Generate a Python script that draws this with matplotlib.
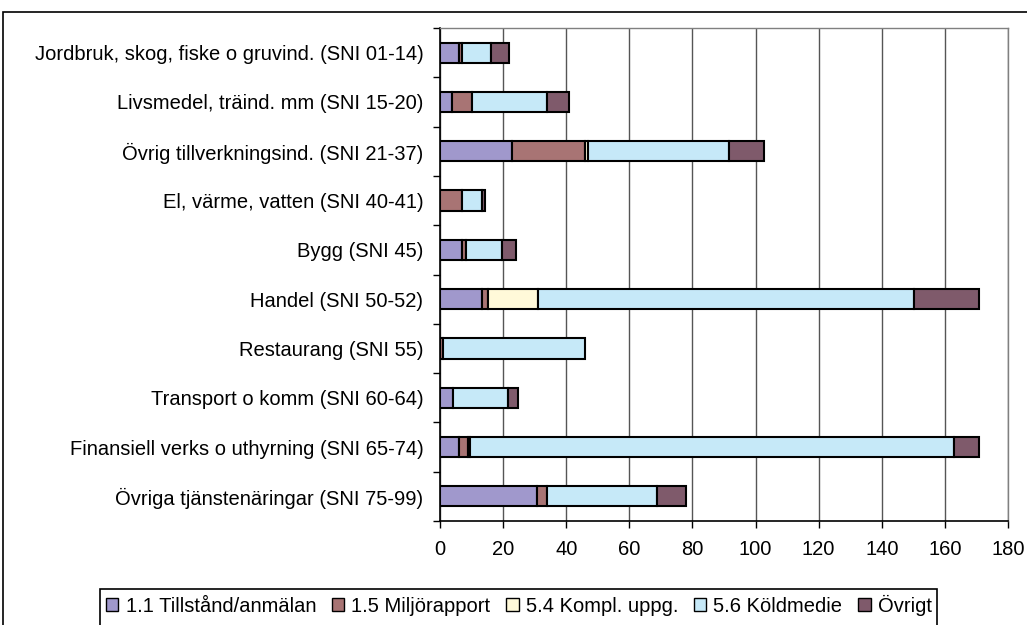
import matplotlib.pyplot as plt
from matplotlib.patches import Rectangle
import numpy as np

plt.rcParams['font.family'] = ['Liberation Sans', 'DejaVu Sans']

categories = [
    'Jordbruk, skog, fiske o gruvind. (SNI 01-14)',
    'Livsmedel, träind. mm (SNI 15-20)',
    'Övrig tillverkningsind. (SNI 21-37)',
    'El, värme, vatten (SNI 40-41)',
    'Bygg (SNI 45)',
    'Handel (SNI 50-52)',
    'Restaurang (SNI 55)',
    'Transport o komm (SNI 60-64)',
    'Finansiell verks o uthyrning (SNI 65-74)',
    'Övriga tjänstenäringar (SNI 75-99)',
]
series_names = ['1.1 Tillstånd/anmälan', '1.5 Miljörapport', '5.4 Kompl. uppg.',
                '5.6 Köldmedie', 'Övrigt']
tillstand = [6.0, 3.9, 22.7, 0, 6.9, 13.3, 0, 4.0, 6.1, 30.8]
miljorapport = [1.0, 6.2, 23.3, 7.0, 1.2, 2.0, 1.0, 0, 2.9, 3.1]
kompl = [0, 0, 1.0, 0, 0, 15.7, 0, 0, 0.6, 0]
koldmedie = [9.1, 23.7, 44.6, 6.2, 11.7, 119.1, 45.0, 17.7, 153.2, 34.8]
ovrigt = [5.7, 7.2, 11.0, 1.0, 4.2, 20.8, 0, 3.0, 8.1, 9.2]
colors = ['#A098CC', '#A87474', '#FFF9D9', '#C6E9F8', '#7F5A6B']

W, H = 1027, 625
fig = plt.figure(figsize=(W / 100, H / 100), dpi=100)
ax = fig.add_axes([440 / W, 1 - 521 / H, 568 / W, 493 / H])

y = np.arange(len(categories))
left = np.zeros(len(categories))
handles = []
for vals, name, col in zip([tillstand, miljorapport, kompl, koldmedie, ovrigt],
                           series_names, colors):
    vals = np.array(vals, dtype=float)
    lw = [1.5 if v > 0 else 0 for v in vals]
    ax.barh(y, vals, left=left, height=0.41, color=col,
            edgecolor='black', linewidth=lw, zorder=3, label=name)
    handles.append(Rectangle((0, 0), 1, 1, facecolor=col, edgecolor='black', linewidth=1))
    left += vals

ax.set_xlim(0, 180)
ax.set_ylim(len(categories) - 0.5, -0.5)
ax.set_xticks(range(0, 181, 20))
ax.set_yticks(y)
ax.set_yticklabels(categories)
ax.set_yticks(np.arange(-0.5, len(categories), 1), minor=True)
ax.tick_params(axis='y', which='major', length=0, pad=12, labelsize=14.5)
ax.tick_params(axis='y', which='minor', length=5, width=1, color='black')
ax.tick_params(axis='x', length=5, width=1, pad=9, labelsize=14.5)
ax.grid(axis='x', color='#555555', linewidth=1, zorder=0)
ax.set_axisbelow(True)
for s in ['top', 'right']:
    ax.spines[s].set_color('#808080')
    ax.spines[s].set_linewidth(1)
for s in ['left', 'bottom']:
    ax.spines[s].set_color('black')
    ax.spines[s].set_linewidth(1.2)

# outer chart frame (cut at right and bottom)
fig.patches.append(Rectangle((3 / W, -0.2), 2, 1 - 12 / H + 0.2, transform=fig.transFigure,
                             fill=False, edgecolor='black', linewidth=1.2))
# legend box
fig.patches.append(Rectangle((100 / W, -0.2), 837 / W, 1 - 589 / H + 0.2,
                             transform=fig.transFigure, fill=False,
                             edgecolor='black', linewidth=1.2))
fig.legend(handles, series_names, loc='center', bbox_to_anchor=(519 / W, 1 - 605 / H),
           ncol=5, frameon=False, fontsize=14.5, handlelength=0.6, handleheight=0.6,
           handletextpad=0.35, columnspacing=0.8, borderpad=0)

fig.savefig('out.png', dpi=100)
